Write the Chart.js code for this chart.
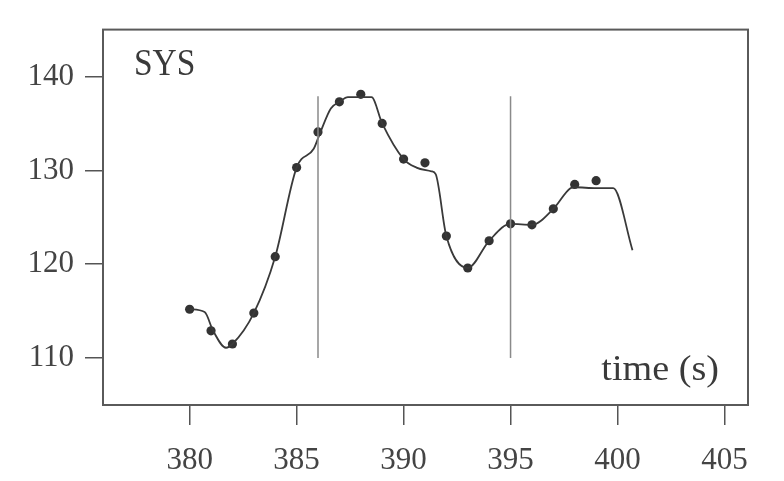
<!DOCTYPE html>
<html>
<head>
<meta charset="utf-8">
<script src="https://cdn.jsdelivr.net/npm/chart.js@4/dist/chart.umd.min.js"></script>
<style>
html,body{margin:0;padding:0;background:#fff;}
#wrap{width:784px;height:481px;position:relative;}
</style>
</head>
<body>
<div id="wrap"><canvas id="c" width="784" height="481"></canvas></div>
<script>
// Sampled markers (one per second)
const markerTimes = [380,381,382,383,384,385,386,387,388,389,390,391,392,393,394,395,396,397,398,399];
const markerSys   = [115.2,112.9,111.5,114.8,120.8,130.3,134.1,137.3,138.1,135.0,131.2,130.8,123.0,119.6,122.5,124.3,124.2,125.9,128.5,128.9];
// Continuous trace (vertices)
const traceTimes = [380,380.7,381.1,381.7,382,383,384,385,385.8,386.1,386.6,387,387.4,388.5,389,390,390.6,391.3,391.5,392,393,394,395,396,397,397.8,398,399,399.8,400.7];
const traceSys   = [115.2,114.9,112.9,111.1,111.5,114.8,120.8,130.3,132.3,134.0,136.6,137.3,137.8,137.8,135.0,131.2,130.3,129.9,129.6,123.0,119.6,122.5,124.3,124.2,125.9,128.1,128.2,128.1,128.1,121.5];
// Event markers (vertical lines)
const eventTimes = [386,395];
const eventRange = [110,137.9];
// Tick labels
const xTicks = [380,385,390,395,400,405];
const yTicks = [110,120,130,140];
const panelLabel = "SYS";
const axisLabel = "time (s)";

const serif = "'Liberation Serif','DejaVu Serif',serif";
const inkDark = '#333333';

const datasets = [];
eventTimes.forEach(t => {
  datasets.push({
    type:'line',
    data: eventRange.map(v => ({x:t, y:v})),
    borderColor:'#8a8a8a', borderWidth:1.5, pointRadius:0, tension:0
  });
});
datasets.push({
  type:'line',
  data: traceTimes.map((t,i)=>({x:t,y:traceSys[i]})),
  borderColor:'#3a3a3a', borderWidth:1.8, pointRadius:0,
  cubicInterpolationMode:'monotone'
});
datasets.push({
  type:'scatter',
  data: markerTimes.map((t,i)=>({x:t,y:markerSys[i]})),
  backgroundColor:inkDark, borderColor:inkDark, pointRadius:4.6, borderWidth:0
});

const framePlugin = {
  id:'frame',
  afterDraw(chart){
    const {ctx, chartArea:a} = chart;
    ctx.save();
    ctx.strokeStyle = '#5a5a5a';
    ctx.lineWidth = 2;
    ctx.strokeRect(a.left, a.top, a.right-a.left, a.bottom-a.top);
    ctx.fillStyle = '#3a3a3a';
    ctx.textBaseline = 'alphabetic';
    // panel label
    ctx.save();
    ctx.font = '38px ' + serif;
    ctx.translate(a.left + 31, a.top + 45);
    ctx.scale(0.88,1);
    ctx.textAlign = 'left';
    ctx.fillText(panelLabel, 0, 0);
    ctx.restore();
    // axis label
    ctx.save();
    ctx.font = '36px ' + serif;
    ctx.textAlign = 'right';
    ctx.translate(a.right - 29, a.bottom - 25);
    ctx.scale(1.06,1);
    ctx.fillText(axisLabel, 0, 0);
    ctx.restore();
    ctx.restore();
  }
};

new Chart(document.getElementById('c'), {
  type:'scatter',
  data:{datasets},
  options:{
    responsive:false,
    animation:false,
    devicePixelRatio:1,
    layout:{padding:{left:0, top:28, right:36, bottom:0}},
    plugins:{legend:{display:false}, tooltip:{enabled:false}},
    scales:{
      x:{
        type:'linear', min:375.95, max:406.1,
        afterBuildTicks(s){ s.ticks = xTicks.map(v=>({value:v})); },
        afterFit(s){ s.height = 76; },
        grid:{display:true, drawOnChartArea:false, drawTicks:true, tickLength:20, tickColor:'#555', lineWidth:1.5},
        border:{display:false},
        ticks:{color:'#444', font:{family:serif, size:31}, padding:17, maxRotation:0, autoSkip:false}
      },
      y:{
        type:'linear', min:105, max:145,
        afterBuildTicks(s){ s.ticks = yTicks.map(v=>({value:v})); },
        afterFit(s){ s.width = 103; },
        grid:{display:true, drawOnChartArea:false, drawTicks:true, tickLength:18, tickColor:'#555', lineWidth:1.5},
        border:{display:false},
        ticks:{color:'#444', font:{family:serif, size:31}, padding:11, autoSkip:false}
      }
    }
  },
  plugins:[framePlugin]
});
</script>
</body>
</html>
